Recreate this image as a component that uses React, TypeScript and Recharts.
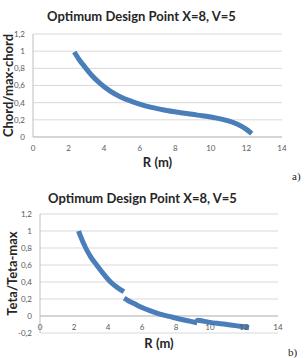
import React from 'react';
import { LineChart, Line, XAxis, YAxis, CartesianGrid, ReferenceLine, Label } from 'recharts';

// Chord distribution along the blade radius
const chordR = [2.32, 2.6, 2.9, 3.3, 3.77, 4.34, 4.9, 5.47, 6.04, 6.6, 7.36, 8.3, 9.25, 10.2, 10.94, 11.5, 11.98, 12.3];
const chordRatio = [0.99, 0.9, 0.82, 0.72, 0.625, 0.535, 0.47, 0.42, 0.38, 0.348, 0.315, 0.283, 0.255, 0.225, 0.19, 0.148, 0.092, 0.04];

// Twist distribution, three runs of the solution
const tetaR1 = [2.27, 2.4, 2.69, 3.0, 3.33, 3.7, 4.15, 4.55, 4.93];
const tetaRatio1 = [1.0, 0.93, 0.8, 0.69, 0.6, 0.505, 0.4, 0.335, 0.285];
const tetaR2 = [4.95, 5.2, 5.5, 6.0, 6.5, 7.0, 7.6, 8.2, 8.8, 9.25];
const tetaRatio2 = [0.21, 0.18, 0.15, 0.1, 0.06, 0.025, -0.005, -0.035, -0.06, -0.08];
const tetaR3 = [9.2, 9.3, 9.6, 10.0, 10.6, 11.2, 11.75, 12.3];
const tetaRatio3 = [-0.06, -0.05, -0.06, -0.075, -0.09, -0.105, -0.12, -0.135];

const xTicks = [0, 2, 4, 6, 8, 10, 12, 14];
const chordTicks = [0, 0.2, 0.4, 0.6, 0.8, 1, 1.2];
const tetaTicks = [-0.2, 0, 0.2, 0.4, 0.6, 0.8, 1, 1.2];

const chartTitle = 'Optimum Design Point X=8, V=5';

const zip = (r: number[], v: number[]) => r.map((x, i) => ({ r: x, v: v[i] }));
const chordData = zip(chordR, chordRatio);
const tetaData1 = zip(tetaR1, tetaRatio1);
const tetaData2 = zip(tetaR2, tetaRatio2);
const tetaData3 = zip(tetaR3, tetaRatio3);

const fmt = (v: number) => {
  const s = Math.abs(v) < 1e-9 ? '0' : String(Math.round(v * 10) / 10);
  return s.replace('.', ',');
};

const BLUE = '#4a7ebb';
const GRID = '#d9d9d9';
const AXIS = '#bfbfbf';
const TICK = '#595959';
const FONT = 'Lato, "Liberation Sans", sans-serif';

const tickStyle = { fontSize: 8, fill: TICK, fontFamily: FONT };

const yTitle = (text: string, dx: number) => (props: any) => {
  const { x, y, height } = props.viewBox;
  const cx = x + dx;
  const cy = y + height / 2;
  return (
    <text
      x={cx}
      y={cy}
      transform={`rotate(-90, ${cx}, ${cy})`}
      textAnchor="middle"
      dominantBaseline="central"
      fontFamily={FONT}
      fontWeight={700}
      fontSize={13}
      fill="#262626"
    >
      {text}
    </text>
  );
};

const xTitle = (text: string, dy: number) => (props: any) => {
  const { x, y, width } = props.viewBox;
  return (
    <text
      x={x + width / 2}
      y={y + dy}
      textAnchor="middle"
      dominantBaseline="central"
      fontFamily={FONT}
      fontWeight={700}
      fontSize={13}
      fill="#262626"
    >
      {text}
    </text>
  );
};

// x tick labels of the twist chart sit just under the zero line
const RaisedTick = (props: any) => {
  const { x, y, payload } = props;
  return (
    <text x={x} y={y - 3} textAnchor="middle" fontSize={8} fill={TICK} fontFamily={FONT}>
      {payload.value}
    </text>
  );
};

const Title = ({ top, cx }: { top: number; cx: number }) => (
  <div
    style={{
      position: 'absolute',
      left: cx - 150,
      width: 300,
      top: top - 9,
      height: 18,
      lineHeight: '18px',
      textAlign: 'center',
      fontFamily: FONT,
      fontWeight: 700,
      fontSize: 13,
      color: '#262626',
      whiteSpace: 'nowrap',
    }}
  >
    {chartTitle}
  </div>
);

const Tag = ({ text, left, top }: { text: string; left: number; top: number }) => (
  <div
    style={{
      position: 'absolute',
      left,
      top,
      fontFamily: '"Liberation Serif", serif',
      fontSize: 11,
      lineHeight: '12px',
      color: '#222',
    }}
  >
    {text}
  </div>
);

export default function App() {
  return (
    <div style={{ position: 'absolute', left: 0, top: 0, width: 306, height: 358, background: '#fff', overflow: 'hidden' }}>
      <Title top={16} cx={141.5} />
      <div style={{ position: 'absolute', left: 0, top: 0 }}>
        <LineChart width={306} height={180} margin={{ top: 34, right: 24, bottom: 0, left: 0 }}>
          <CartesianGrid vertical={false} stroke={GRID} />
          <XAxis
            type="number"
            dataKey="r"
            domain={[0, 14]}
            ticks={xTicks}
            interval={0}
            height={43}
            axisLine={{ stroke: AXIS }}
            tickLine={false}
            tickSize={0}
            tickMargin={8}
            tick={tickStyle}
          >
            <Label content={xTitle('R (m)', 25)} />
          </XAxis>
          <YAxis
            type="number"
            domain={[0, 1.2]}
            ticks={chordTicks}
            interval={0}
            width={33}
            axisLine={{ stroke: AXIS }}
            tickLine={false}
            tickSize={0}
            tickMargin={8}
            tick={tickStyle}
            tickFormatter={fmt}
          >
            <Label content={yTitle('Chord/max-chord', 8)} />
          </YAxis>
          <Line
            data={chordData}
            dataKey="v"
            type="monotone"
            stroke={BLUE}
            strokeWidth={5}
            dot={false}
            activeDot={false}
            isAnimationActive={false}
          />
        </LineChart>
      </div>
      <Tag text="a)" left={292} top={170} />

      <Title top={197.7} cx={142.5} />
      <div style={{ position: 'absolute', left: 0, top: 180 }}>
        <LineChart width={306} height={178} margin={{ top: 34, right: 28, bottom: 0, left: 0 }}>
          <CartesianGrid vertical={false} stroke={GRID} />
          <XAxis
            type="number"
            dataKey="r"
            domain={[0, 14]}
            ticks={xTicks}
            interval={0}
            height={25}
            axisLine={false}
            tickLine={false}
            tickSize={0}
            tickMargin={0}
            tick={<RaisedTick />}
          >
            <Label content={xTitle('R (m)', 10)} />
          </XAxis>
          <YAxis
            type="number"
            domain={[-0.2, 1.2]}
            ticks={tetaTicks}
            interval={0}
            width={40}
            axisLine={{ stroke: AXIS }}
            tickLine={false}
            tickSize={0}
            tickMargin={8}
            tick={tickStyle}
            tickFormatter={fmt}
          >
            <Label content={yTitle('Teta/Teta-max', 12)} />
          </YAxis>
          <ReferenceLine y={0} stroke={AXIS} />
          <Line data={tetaData1} dataKey="v" type="monotone" stroke={BLUE} strokeWidth={5} dot={false} activeDot={false} isAnimationActive={false} />
          <Line data={tetaData2} dataKey="v" type="monotone" stroke={BLUE} strokeWidth={5} dot={false} activeDot={false} isAnimationActive={false} />
          <Line data={tetaData3} dataKey="v" type="monotone" stroke={BLUE} strokeWidth={5} dot={false} activeDot={false} isAnimationActive={false} />
        </LineChart>
      </div>
      <Tag text="b)" left={288} top={346} />
    </div>
  );
}
